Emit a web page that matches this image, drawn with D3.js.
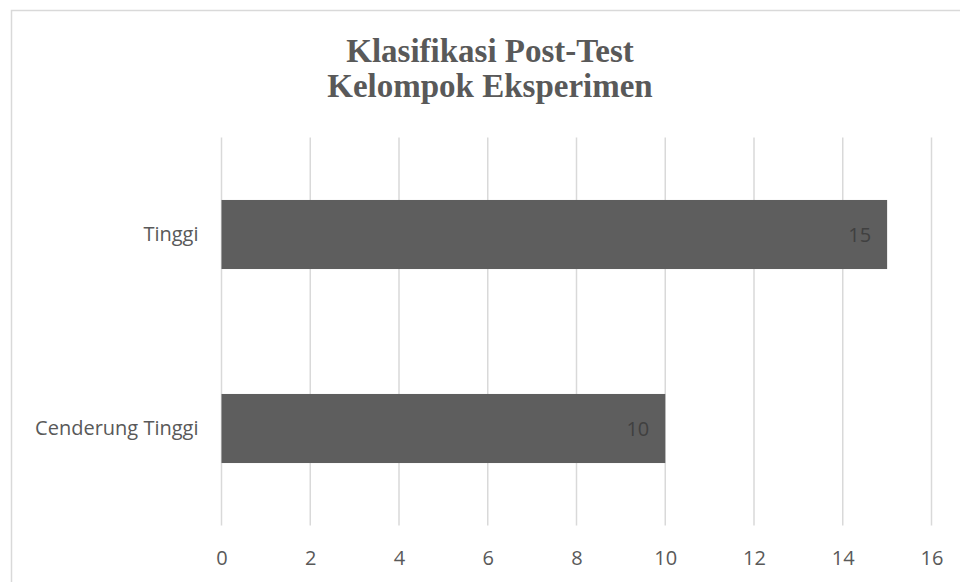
<!DOCTYPE html>
<html>
<head>
<meta charset="utf-8">
<script src="https://cdn.jsdelivr.net/npm/d3@7"></script>
<style>
  body { margin: 0; background: #fff; }
  .axis text { font-family: "Open Sans", sans-serif; fill: #595959; }
</style>
</head>
<body>
<div class="chart"></div>
<script>
// DATA ------------------------------
const categories = ['Tinggi', 'Cenderung Tinggi'];
const values = [15, 10];
const xTicks = [0, 2, 4, 6, 8, 10, 12, 14, 16];
const titleLines = ['Klasifikasi Post-Test', 'Kelompok Eksperimen'];

// CHART INIT ------------------------
const W = 960, H = 582;
const margin = { top: 137.5, right: 28.5, bottom: 56.5, left: 221.5 },
    width = W - margin.left - margin.right,
    height = H - margin.top - margin.bottom;

const svg = d3.select('.chart')
    .append('svg')
    .attr('width', W)
    .attr('height', H);

// chart frame (runs off the right/bottom edge)
svg.append('rect')
    .attr('x', 11.5)
    .attr('y', 10.5)
    .attr('width', W + 20)
    .attr('height', H + 20)
    .attr('fill', 'none')
    .attr('stroke', '#d9d9d9')
    .attr('stroke-width', 1.5);

// title
svg.append('text')
    .attr('text-anchor', 'middle')
    .attr('font-family', '"Liberation Serif", serif')
    .attr('font-weight', 'bold')
    .attr('font-size', 33)
    .attr('fill', '#595959')
    .selectAll('tspan')
    .data(titleLines)
    .join('tspan')
    .attr('x', 490)
    .attr('y', (d, i) => 62 + i * 35)
    .text(d => d);

const g = svg.append('g')
    .attr('transform', `translate(${margin.left},${margin.top})`);

const xScale = d3.scaleLinear()
    .domain([0, 16])
    .range([0, width]);

const yScale = d3.scaleBand()
    .domain(categories)
    .range([0, height])
    .paddingInner(0.644)
    .paddingOuter(0.322);

// gridlines
g.append('g')
    .selectAll('line')
    .data(xTicks)
    .join('line')
    .attr('x1', d => xScale(d))
    .attr('x2', d => xScale(d))
    .attr('y1', 0)
    .attr('y2', height)
    .attr('stroke', '#d9d9d9')
    .attr('stroke-width', 1.5);

// bars
g.append('g')
    .selectAll('rect')
    .data(categories)
    .join('rect')
    .attr('x', xScale(0))
    .attr('y', d => yScale(d))
    .attr('width', (d, i) => xScale(values[i]) - xScale(0))
    .attr('height', yScale.bandwidth())
    .attr('fill', '#5e5e5e');

// value labels
g.append('g')
    .selectAll('text')
    .data(categories)
    .join('text')
    .attr('x', (d, i) => xScale(values[i]) - 16)
    .attr('y', d => yScale(d) + yScale.bandwidth() / 2)
    .attr('dy', '0.36em')
    .attr('text-anchor', 'end')
    .attr('font-family', '"Open Sans", sans-serif')
    .attr('font-size', 20)
    .attr('fill', '#404040')
    .text((d, i) => values[i]);

// axes
const xAxis = d3.axisBottom(xScale).tickValues(xTicks).tickSize(0).tickPadding(25);
const yAxis = d3.axisLeft(yScale).tickSize(0).tickPadding(23);

g.append('g')
    .attr('class', 'axis x-axis')
    .attr('transform', `translate(0,${height})`)
    .call(xAxis)
    .call(a => a.select('.domain').remove())
    .selectAll('text').attr('font-size', 20);

g.append('g')
    .attr('class', 'axis y-axis')
    .call(yAxis)
    .call(a => a.select('.domain').remove())
    .selectAll('text').attr('font-size', 20);
</script>
</body>
</html>
